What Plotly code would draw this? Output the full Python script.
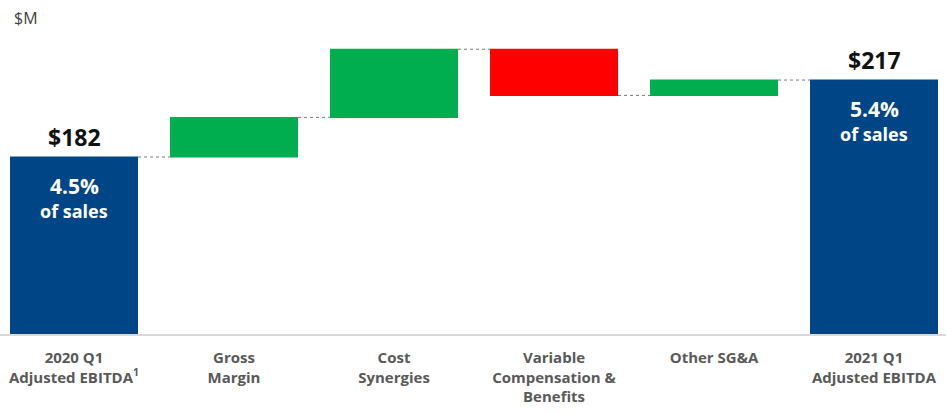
import plotly.graph_objects as go

categories = ["2020 Q1<br>Adjusted EBITDA<sup>1</sup>", "Gross<br>Margin", "Cost<br>Synergies",
              "Variable<br>Compensation &<br>Benefits", "Other SG&A", "2021 Q1<br>Adjusted EBITDA"]
values = [182, 18, 31, -21, 7, 0]
measures = ["absolute", "relative", "relative", "relative", "relative", "total"]
pct_of_sales = ["4.5%", "5.4%"]

start_val = values[0]
end_val = sum(values[:5])

fig = go.Figure(go.Waterfall(
    x=list(range(len(categories))),
    y=values,
    measure=measures,
    width=0.8,
    increasing=dict(marker=dict(color="#00AD4F", line=dict(width=0))),
    decreasing=dict(marker=dict(color="#FF0000", line=dict(width=0))),
    totals=dict(marker=dict(color="#004586", line=dict(width=0))),
    connector=dict(mode="between", line=dict(color="#7a7a7a", width=1, dash="dot")),
    textinfo="none",
    hoverinfo="skip",
))

font_fam = "Open Sans"
anns = []
for xi, val, pct in [(0, start_val, pct_of_sales[0]), (5, end_val, pct_of_sales[1])]:
    anns.append(dict(x=xi, y=val, xref="x", yref="y", text=f"<b>${val}</b>", showarrow=False,
                     yanchor="middle", yshift=20, font=dict(family=font_fam, size=23, color="#111111")))
    anns.append(dict(x=xi, y=val, xref="x", yref="y", text=f"<b>{pct}</b>", showarrow=False,
                     yanchor="middle", yshift=-29, font=dict(family=font_fam, size=21, color="white")))
    anns.append(dict(x=xi, y=val, xref="x", yref="y", text="<b>of sales</b>", showarrow=False,
                     yanchor="middle", yshift=-54, font=dict(family=font_fam, size=18, color="white")))
anns.append(dict(x=0.0, y=1, xref="paper", yref="paper", text="$M", showarrow=False,
                 xanchor="left", yanchor="middle", xshift=12, yshift=-18,
                 font=dict(family=font_fam, size=16, color="#404040")))

fig.update_layout(
    width=946, height=414,
    margin=dict(l=0, r=0, t=0, b=80),
    paper_bgcolor="white", plot_bgcolor="white",
    showlegend=False,
    annotations=anns,
    xaxis=dict(
        range=[-0.4625, 5.45],
        tickmode="array", tickvals=list(range(len(categories))), ticktext=categories,
        tickfont=dict(family=font_fam, size=15, color="#595959", weight="bold"),
        ticklabelstandoff=9,
        showline=True, linecolor="#d9d9d9", linewidth=2,
        showgrid=False, zeroline=False, ticks="",
    ),
    yaxis=dict(range=[101.5, 253.4], visible=False, showgrid=False, zeroline=False),
)

fig.write_html("out.html")
